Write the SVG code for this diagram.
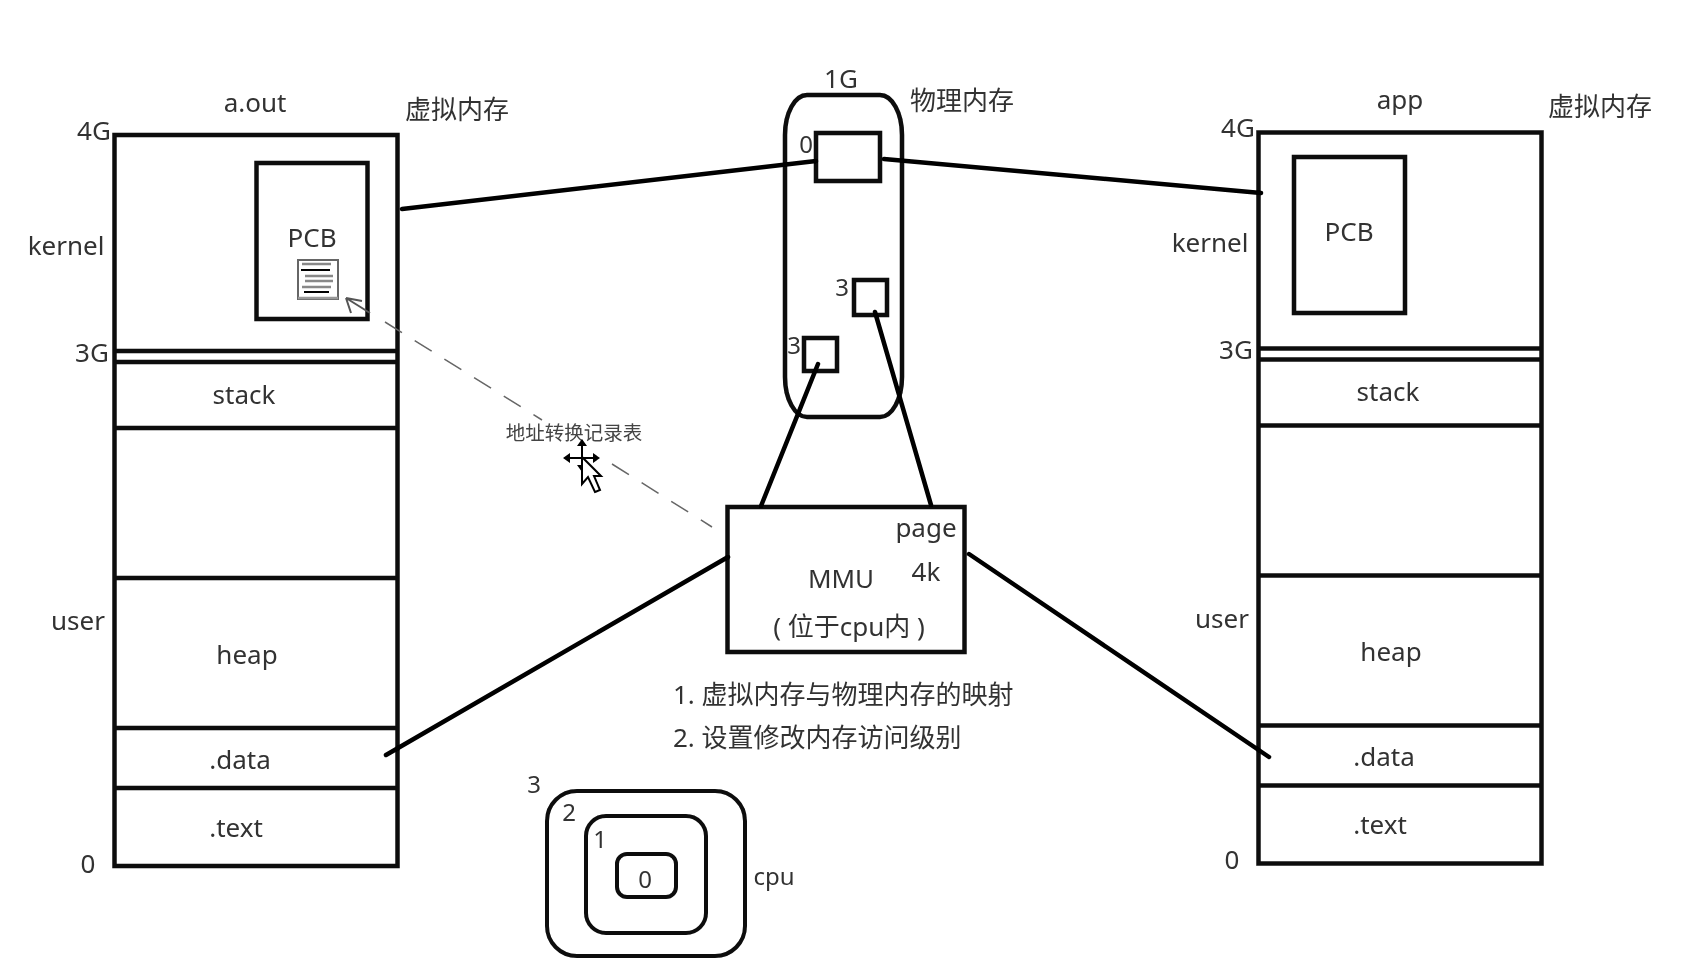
<svg xmlns="http://www.w3.org/2000/svg" width="1684" height="963" viewBox="0 0 1684 963">
<style>
text{font-family:"Noto Sans","Noto Sans CJK SC",sans-serif;font-size:26px;fill:#333;text-anchor:middle}
.s{text-anchor:start}
.n{font-size:24px}
.sm{font-size:19.5px;fill:#444}
.b{fill:none;stroke:#0a0a0a;stroke-width:4.500}
.t{fill:none;stroke:#0a0a0a;stroke-width:4}
.c{fill:none;stroke:#000;stroke-width:4.500;stroke-linecap:round}
.d{fill:none;stroke:#666;stroke-width:1.500;stroke-dasharray:20 15}
</style>
<defs>
<g id="stackbox">
<rect class="b" x="0" y="0" width="283" height="731"/>
<path class="b" d="M0 216H283M0 227H283M0 293H283M0 443H283M0 593H283M0 653H283"/>
</g>
<filter id="soft" filterUnits="userSpaceOnUse" x="0" y="0" width="1684" height="963"><feGaussianBlur stdDeviation="0.600"/></filter>
</defs>
<rect width="1684" height="963" fill="#fff"/>
<g filter="url(#soft)">
<g id="aout">
<use href="#stackbox" x="114.500" y="135"/>
<rect class="b" x="256.500" y="163" width="111" height="156"/>
<text x="255" y="112">a.out</text>
<text x="457" y="119">虚拟内存</text>
<text x="94" y="140">4G</text>
<text x="66" y="255">kernel</text>
<text x="312" y="247">PCB</text>
<text x="92" y="362">3G</text>
<text x="244" y="404">stack</text>
<text x="78" y="630">user</text>
<text x="247" y="664">heap</text>
<text x="240" y="769">.data</text>
<text x="236" y="837">.text</text>
<text x="88" y="873">0</text>
</g>

<g id="pcb-doc">
<rect x="298" y="260" width="40" height="39" fill="#fff" stroke="#666" stroke-width="2"/>
<path d="M302 264H331M305 276H333M305 281H333M302 287H331" stroke="#888" stroke-width="2.500" fill="none"/>
<path d="M301 270H330M304 292H329" stroke="#000" stroke-width="2" fill="none"/>
<path d="M298 298H338" stroke="#999" stroke-width="2.500"/>
</g>

<g id="app">
<use href="#stackbox" x="1258.500" y="132.500"/>
<rect class="b" x="1299" y="157" width="111" height="156" transform="translate(-5 0)"/>
<text x="1400" y="109">app</text>
<text x="1600" y="116">虚拟内存</text>
<text x="1238" y="137">4G</text>
<text x="1210" y="252">kernel</text>
<text x="1349" y="241">PCB</text>
<text x="1236" y="359">3G</text>
<text x="1388" y="401">stack</text>
<text x="1222" y="628">user</text>
<text x="1391" y="661">heap</text>
<text x="1384" y="766">.data</text>
<text x="1380" y="834">.text</text>
<text x="1232" y="869">0</text>
</g>

<g id="physical">
<rect class="b" x="785" y="95" width="117" height="322" rx="22" ry="40"/>
<rect class="b" x="816" y="133" width="64" height="48"/>
<rect class="b" x="854" y="280" width="33" height="35"/>
<rect class="b" x="804" y="338" width="33" height="33"/>
<text x="841" y="88">1G</text>
<text x="962" y="110">物理内存</text>
<text class="n" x="806" y="153">0</text>
<text class="n" x="842" y="296">3</text>
<text class="n" x="794" y="354">3</text>
</g>

<g id="mmu">
<rect class="b" x="727.500" y="507" width="237" height="145"/>
<text x="926" y="537">page</text>
<text x="926" y="581">4k</text>
<text x="841" y="588">MMU</text>
<text x="849" y="636">(  位于cpu内 )</text>
</g>

<g id="notes">
<text class="s" x="673" y="704">1. 虚拟内存与物理内存的映射</text>
<text class="s" x="673" y="747">2. 设置修改内存访问级别</text>
</g>

<g id="cpu">
<rect class="t" x="549" y="794" width="198" height="165" rx="30" ry="30" transform="translate(-2 -3)"/>
<rect class="t" x="588" y="818" width="120" height="117" rx="20" ry="20" transform="translate(-2 -2)"/>
<rect class="t" x="619" y="855" width="59" height="43" rx="10" ry="10" transform="translate(-2 -1)"/>
<text class="n" x="534" y="793">3</text>
<text class="n" x="569" y="821">2</text>
<text class="n" x="600" y="848">1</text>
<text class="n" x="645" y="888">0</text>
<text class="n" x="774" y="885">cpu</text>
</g>

<g id="connectors">
<path class="c" d="M402 209L816 161"/>
<path class="c" d="M884 159L1261 193"/>
<path class="c" d="M818 364L761 506"/>
<path class="c" d="M875 312L931 505"/>
<path class="c" d="M728 557L386 755"/>
<path class="c" d="M969 554L1269 757"/>
<path class="d" d="M385 322L542 420"/>
<path class="d" d="M612 464L712 527"/>
<path fill="none" stroke="#555" stroke-width="2" d="M346 298L370 313M346 298L351 313M346 298L362 301"/>
</g>

<g id="table-label">
<text class="sm" x="574" y="440">地址转换记录表</text>
</g>

<g id="cursor">
<path d="M582 442V467M565 458H597" stroke="#000" stroke-width="2" fill="none"/>
<path d="M582 439l-5 7h10zM582 472l-5-7h10zM563 458l7-5v10zM600 458l-7-5v10z" fill="#000"/>
<path d="M582 457V484L588 477L595 492L600 490L594 476L601 476Z" fill="#fff" stroke="#000" stroke-width="2"/>
</g>
</g>
</svg>
